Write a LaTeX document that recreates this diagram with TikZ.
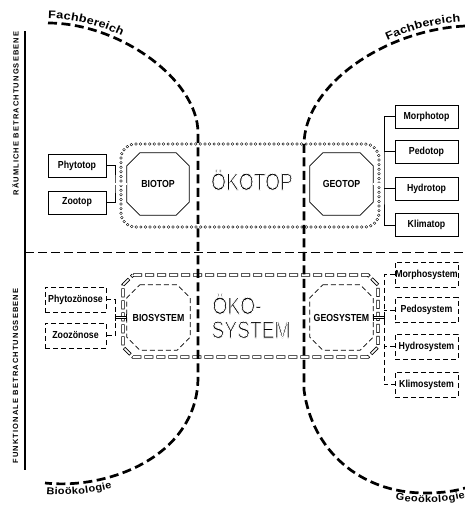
\documentclass[tikz,border=0pt]{standalone}
\usepackage{fontspec}
\setmainfont{Liberation Sans}
\newfontfamily\lblfont[FakeStretch=0.86]{Liberation Sans}
\newfontfamily\bigfont[FakeStretch=0.8]{Liberation Sans}
\newfontfamily\sidefont[LetterSpace=15]{Liberation Sans}
\newfontfamily\arcfont[FakeStretch=1.1]{Liberation Sans}
\newfontfamily\arcwidefont[FakeStretch=1.15]{Liberation Sans}
\usetikzlibrary{decorations.text}

\newcommand\arcfmt{\arcfont\bfseries\fontsize{10}{10}\selectfont}
\newcommand\arcwidefmt{\arcwidefont\bfseries\fontsize{11}{11}\selectfont}
\newcommand\sidefmt{\sidefont\bfseries\fontsize{7.5}{8}\selectfont}
\newcommand\lblfmt{\lblfont\bfseries\fontsize{10.2}{11}\selectfont}
\newcommand\bigfmt{\bigfont\fontsize{24}{24}\selectfont}
% light display lettering: glyphs filled black and edged in white
\newcommand\lighttext[1]{\special{pdf:literal direct 2 Tr 0.75 w 1 G}#1\special{pdf:literal direct 0 Tr 0 G}}

% octagon drawn round a named rectangular node
\newcommand\chamferbox[2]{%
  \draw[#2] ([xshift=13pt]#1.north west) -- ([xshift=-13pt]#1.north east)
    -- ([yshift=-13pt]#1.north east) -- ([yshift=13pt]#1.south east)
    -- ([xshift=-13pt]#1.south east) -- ([xshift=13pt]#1.south west)
    -- ([yshift=13pt]#1.south west) -- ([yshift=-13pt]#1.north west) -- cycle;}

\begin{document}
\begin{tikzpicture}[x=1pt,y=-1pt,
  box/.style={draw, line width=0.75pt, minimum width=58pt, minimum height=23pt,
    inner sep=0pt, font=\lblfmt},
  dbox/.style={box, dash pattern=on 5pt off 3pt, minimum width=61pt, minimum height=25pt},
  core/.style={minimum width=62pt, minimum height=62pt, inner sep=0pt, font=\lblfmt},
  thinline/.style={line width=0.75pt},
  thindash/.style={line width=0.75pt, dash pattern=on 5pt off 3pt},
  heavy/.style={line width=2.7pt, dash pattern=on 9pt off 4.5pt},
  ring/.style={line width=0.75pt, double=white, double distance=1.7pt,
    dash pattern=on 0pt off 4.6pt, line cap=round},
  hollow/.style={line width=3.2pt, dash pattern=on 9pt off 3pt,
    postaction={draw=white, line width=1.6pt, dash pattern=on 7.6pt off 4.4pt, dash phase=11.3pt}},
  dbl/.style={line width=0.6pt, double=white, double distance=1.6pt},
]
\useasboundingbox (0,0) rectangle (465,506);
\fill[white] (0,0) rectangle (465,506);

% side axis and level labels
\draw[line width=1.1pt] (25,31) -- (25,470);
\node[rotate=90, font=\sidefmt] (lvlraum) at (15.5,113.5) {RÄUMLICHE BETRACHTUNGSEBENE};
\node[rotate=90, font=\sidefmt] (lvlfunk) at (15.5,376) {FUNKTIONALE BETRACHTUNGSEBENE};
\draw[line width=0.7pt, dash pattern=on 9pt off 4pt] (25,252) -- (465,252);

% ---------- spatial level ----------
\draw[ring, rounded corners=14pt] (121,144) rectangle (379,227);

\node[box] (phytotop) at (77,165.5) {Phytotop};
\node[box] (zootop) at (77,202.5) {Zootop};
\node[core] (biotop) at (158,184) {BIOTOP};
\node[core, minimum width=63pt] (geotop) at (341.5,184) {GEOTOP};
\chamferbox{biotop}{thinline}
\chamferbox{geotop}{thinline}
\node[box, minimum width=63pt] (morphotop) at (426.5,116.5) {Morphotop};
\node[box, minimum width=63pt] (pedotop) at (426.5,151.5) {Pedotop};
\node[box, minimum width=63pt] (hydrotop) at (426.5,188.5) {Hydrotop};
\node[box, minimum width=63pt] (klimatop) at (426.5,225) {Klimatop};

\coordinate (bioL) at (115,184);
\coordinate (geoR) at (384,184);
\draw[thinline] (phytotop.east) -| (bioL) |- (zootop.east);
\draw[dbl] (bioL) -- (biotop.west);
\draw[thinline] (morphotop.west) -| (geoR) |- (klimatop.west);
\draw[thinline] (pedotop.west) -- (pedotop.west -| geoR);
\draw[thinline] (hydrotop.west) -- (hydrotop.west -| geoR);
\draw[dbl] (geotop.east) -- (geoR);

\node[font=\bigfmt, anchor=base] (oekotop) at (252,190) {\lighttext{ÖKOTOP}};

% ---------- functional level ----------
\draw[hollow] (133,275) -- (368,275) -- (378,285) -- (378,347) -- (368,357)
  -- (133,357) -- (123,347) -- (123,285) -- cycle;

\node[dbox] (phytozoenose) at (75.5,299.5) {Phytozönose};
\node[dbox] (zoozoenose) at (75.5,335.5) {Zoozönose};
\node[core, minimum width=63pt, minimum height=65pt] (biosystem) at (158.5,317.5) {BIOSYSTEM};
\node[core, minimum width=63pt, minimum height=65pt] (geosystem) at (341.5,317.5) {GEOSYSTEM};
\chamferbox{biosystem}{thindash}
\chamferbox{geosystem}{thindash}
\node[dbox, minimum width=63pt] (morphosystem) at (426.5,274.5) {Morphosystem};
\node[dbox, minimum width=63pt] (pedosystem) at (426.5,310) {Pedosystem};
\node[dbox, minimum width=63pt] (hydrosystem) at (426.5,346.5) {Hydrosystem};
\node[dbox, minimum width=63pt] (klimosystem) at (426.5,384.5) {Klimosystem};

\coordinate (bsL) at (115,317.5);
\coordinate (gsR) at (384,317.5);
\draw[thindash] (phytozoenose.east) -| (bsL) |- (zoozoenose.east);
\draw[dbl] (bsL) -- (biosystem.west);
\draw[thinline] ([yshift=3.5pt]bsL) -- ([yshift=-3.5pt]bsL);
\draw[thinline] ([yshift=3.5pt]biosystem.west) -- ([yshift=-3.5pt]biosystem.west);
\draw[thindash] (morphosystem.west) -| (gsR) |- (klimosystem.west);
\draw[thindash] (pedosystem.west) -- (pedosystem.west -| gsR);
\draw[thindash] (hydrosystem.west) -- (hydrosystem.west -| gsR);
\draw[dbl] (geosystem.east) -- (gsR);
\draw[thinline] ([yshift=3.5pt]gsR) -- ([yshift=-3.5pt]gsR);
\draw[thinline] ([yshift=3.5pt]geosystem.east) -- ([yshift=-3.5pt]geosystem.east);

\node[font=\bigfmt, anchor=base west] (oeko) at (209,314) {\lighttext{ÖKO-}};
\node[font=\bigfmt, anchor=base west] (system) at (208,338) {\lighttext{SYSTEM}};

% ---------- subject boundaries ----------
\draw[heavy] (48,23) .. controls (120,23) and (198,80) .. (198,133) -- (198,377)
  .. controls (198,455) and (110,490) .. (45,483);
\draw[heavy] (465,26) .. controls (385,30) and (304,85) .. (304,145) -- (304,390)
  .. controls (312,450) and (360,493) .. (425,493) .. controls (443,493) and (455,491) .. (465,488);

\path[decorate, decoration={text along path, text={|\arcwidefmt|Fachbereich},
  text align={left, left indent=0pt}, raise=4.5pt}]
  (48,23) .. controls (120,23) and (198,80) .. (198,133);
\path[decorate, decoration={text along path, text={|\arcwidefmt|Fachbereich},
  text align={right, right indent=4pt}, raise=4.5pt}]
  (304,145) .. controls (304,85) and (385,30) .. (465,26);
\path[decorate, decoration={text along path, text={|\arcfmt|Bioökologie},
  text align={left, left indent=2pt}, raise=-11pt}]
  (45,483) .. controls (110,490) and (198,455) .. (198,377);
\path[decorate, decoration={text along path, text={|\arcfmt|Geoökologie},
  text align={right, right indent=2pt}, raise=-9.5pt}]
  (304,390) .. controls (312,450) and (360,493) .. (425,493) .. controls (443,493) and (455,491) .. (465,488);
\end{tikzpicture}
\end{document}
